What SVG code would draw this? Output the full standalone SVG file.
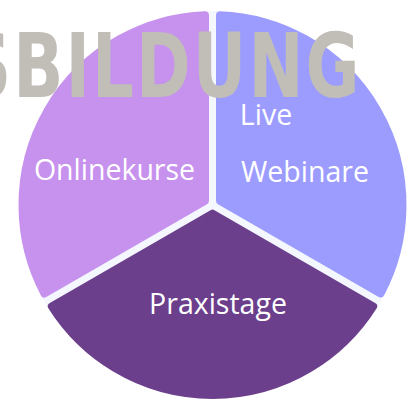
<svg xmlns="http://www.w3.org/2000/svg" width="412" height="399" viewBox="0 0 412 399">
  <style>
    .seg { stroke-width: 8; stroke-linejoin: round; }
    .lbl { font-family: "Open Sans", "Noto Sans", "DejaVu Sans", sans-serif; font-size: 28.5px; fill: #ffffff; text-anchor: middle; }
    .gap { stroke: #F4F8FE; stroke-width: 9; fill: none; }
  </style>
  <rect width="412" height="399" fill="#ffffff"/>
  <g id="gaps">
    <line class="gap" x1="212.5" y1="205" x2="212.5" y2="11"/>
    <line class="gap" x1="212.5" y1="205" x2="380.5" y2="302"/>
    <line class="gap" x1="212.5" y1="205" x2="44.5" y2="302"/>
  </g>
  <g id="onlinekurse">
    <path class="seg" fill="#C692EE" stroke="#C692EE" d="M 205,200.67 L 44.34,293.43 A 190 190 0 0 1 205,15.15 Z"/>
    <text class="lbl" x="114.5" y="180">Onlinekurse</text>
  </g>
  <g id="webinare">
    <path class="seg" fill="#9C9CFE" stroke="#9C9CFE" d="M 220,200.67 L 220,15.15 A 190 190 0 0 1 380.66,293.43 Z"/>
    <text class="lbl" x="266" y="125">Live</text>
    <text class="lbl" x="305" y="182">Webinare</text>
  </g>
  <g id="praxistage">
    <path class="seg" fill="#6C3F8D" stroke="#6C3F8D" d="M 212.5,213.66 L 373.16,306.43 A 190 190 0 0 1 51.84,306.43 Z"/>
    <text class="lbl" x="218" y="314">Praxistage</text>
  </g>
  <g id="title">
    <text transform="scale(0.74 1)" x="-49" y="97" textLength="535" lengthAdjust="spacing" font-family="'DejaVu Sans', sans-serif" font-weight="bold" font-size="89" fill="#C1BDB7">SBILDUNG</text>
  </g>
</svg>
